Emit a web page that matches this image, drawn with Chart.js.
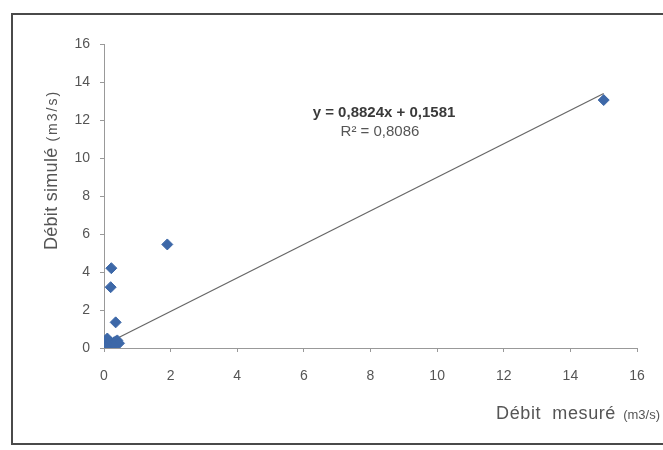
<!DOCTYPE html>
<html>
<head>
<meta charset="utf-8">
<script src="https://cdn.jsdelivr.net/npm/chart.js@4.4.1/dist/chart.umd.min.js"></script>
<style>
  body { margin: 0; background: #fff; }
  #wrap { width: 663px; height: 450px; }
</style>
</head>
<body>
<div id="wrap"><canvas id="chart" width="663" height="450"></canvas></div>
<script>
// valeurs
const debitMesure = [0.1, 0.15, 0.2, 0.25, 0.3, 0.35, 0.1, 0.4, 0.45, 0.3, 0.05, 0.2, 0.22, 0.35, 1.9, 15.0];
const debitSimule = [0.5, 0.1, 0.3, 0.15, 0.3, 0.35, 0.2, 0.4, 0.25, 0.1, 0.05, 3.2, 4.2, 1.35, 5.45, 13.05];
const tendancePente = 0.8824;
const tendanceOrigine = 0.1581;
const tendanceX = [0.1, 15.0];
const ticksAxe = [0, 2, 4, 6, 8, 10, 12, 14, 16];

const points = debitMesure.map((x, i) => ({ x: x, y: debitSimule[i] }));
const tendance = tendanceX.map((x) => ({ x: x, y: tendancePente * x + tendanceOrigine }));

const police = "'Liberation Sans', Arial, sans-serif";

// écrit un texte en deux morceaux (grande police puis petite)
function texteDouble(ctx, a, policeA, espA, b, policeB, espB, x, y, alignDroite) {
  ctx.font = policeA;
  ctx.letterSpacing = espA + "px";
  const wa = ctx.measureText(a).width;
  ctx.font = policeB;
  ctx.letterSpacing = espB + "px";
  const wb = ctx.measureText(b).width;
  const x0 = alignDroite ? x - wa - wb : x - (wa + wb) / 2;
  ctx.font = policeA;
  ctx.letterSpacing = espA + "px";
  ctx.fillText(a, x0, y);
  ctx.font = policeB;
  ctx.letterSpacing = espB + "px";
  ctx.fillText(b, x0 + wa, y);
  ctx.letterSpacing = "0px";
}

// cadre + titres des axes + équation
const decor = {
  id: "decor",
  beforeDraw(chart) {
    const ctx = chart.ctx;
    ctx.save();
    ctx.strokeStyle = "#4a4a4a";
    ctx.lineWidth = 2;
    ctx.strokeRect(12, 14, 700, 430);
    ctx.restore();
  },
  afterDraw(chart) {
    const ctx = chart.ctx;
    ctx.save();
    ctx.fillStyle = "#555";
    ctx.textAlign = "left";
    ctx.textBaseline = "alphabetic";

    // titre axe x
    texteDouble(ctx, "Débit  mesuré", "18px " + police, 0.6, "  (m3/s)", "13px " + police, 0, 660, 419, true);

    // titre axe y
    ctx.translate(57, 170);
    ctx.rotate(-Math.PI / 2);
    texteDouble(ctx, "Débit simulé", "18px " + police, 0.3, " (m3/s)", "14px " + police, 2, 0, 0, false);

    // équation de la tendance
    ctx.setTransform(1, 0, 0, 1, 0, 0);
    ctx.textAlign = "center";
    ctx.fillStyle = "#3a3a3a";
    ctx.font = "bold 15px " + police;
    ctx.fillText("y = 0,8824x + 0,1581", 384, 117);
    ctx.fillStyle = "#555";
    ctx.font = "15px " + police;
    ctx.fillText("R² = 0,8086", 380, 136);
    ctx.restore();
  },
};

const axeCommun = {
  type: "linear",
  min: 0,
  max: 16,
  border: { color: "#999", width: 1 },
  grid: { display: true, drawOnChartArea: false, drawTicks: true, tickLength: 4, color: "#999" },
  afterBuildTicks(axis) {
    axis.ticks = ticksAxe.map((v) => ({ value: v }));
  },
};

new Chart(document.getElementById("chart"), {
  type: "scatter",
  data: {
    datasets: [
      {
        label: "Tendance",
        type: "line",
        data: tendance,
        borderColor: "#666",
        borderWidth: 1.2,
        pointRadius: 0,
        fill: false,
        order: 2,
      },
      {
        label: "Débits",
        data: points,
        pointStyle: "rectRot",
        pointRadius: 5.5,
        backgroundColor: "#3d68a8",
        borderColor: "#3d68a8",
        order: 1,
      },
    ],
  },
  options: {
    responsive: false,
    animation: false,
    layout: { padding: { left: 0, right: 26, top: 44, bottom: 0 } },
    plugins: { legend: { display: false }, tooltip: { enabled: false } },
    scales: {
      x: {
        ...axeCommun,
        position: "bottom",
        ticks: { color: "#555", font: { family: police, size: 14 }, padding: 16, maxRotation: 0 },
        afterFit(scale) {
          scale.height = 102;
        },
      },
      y: {
        ...axeCommun,
        position: "left",
        ticks: { color: "#555", font: { family: police, size: 14 }, padding: 10 },
        afterFit(scale) {
          scale.width = 104;
        },
      },
    },
  },
  plugins: [decor],
});
</script>
</body>
</html>
